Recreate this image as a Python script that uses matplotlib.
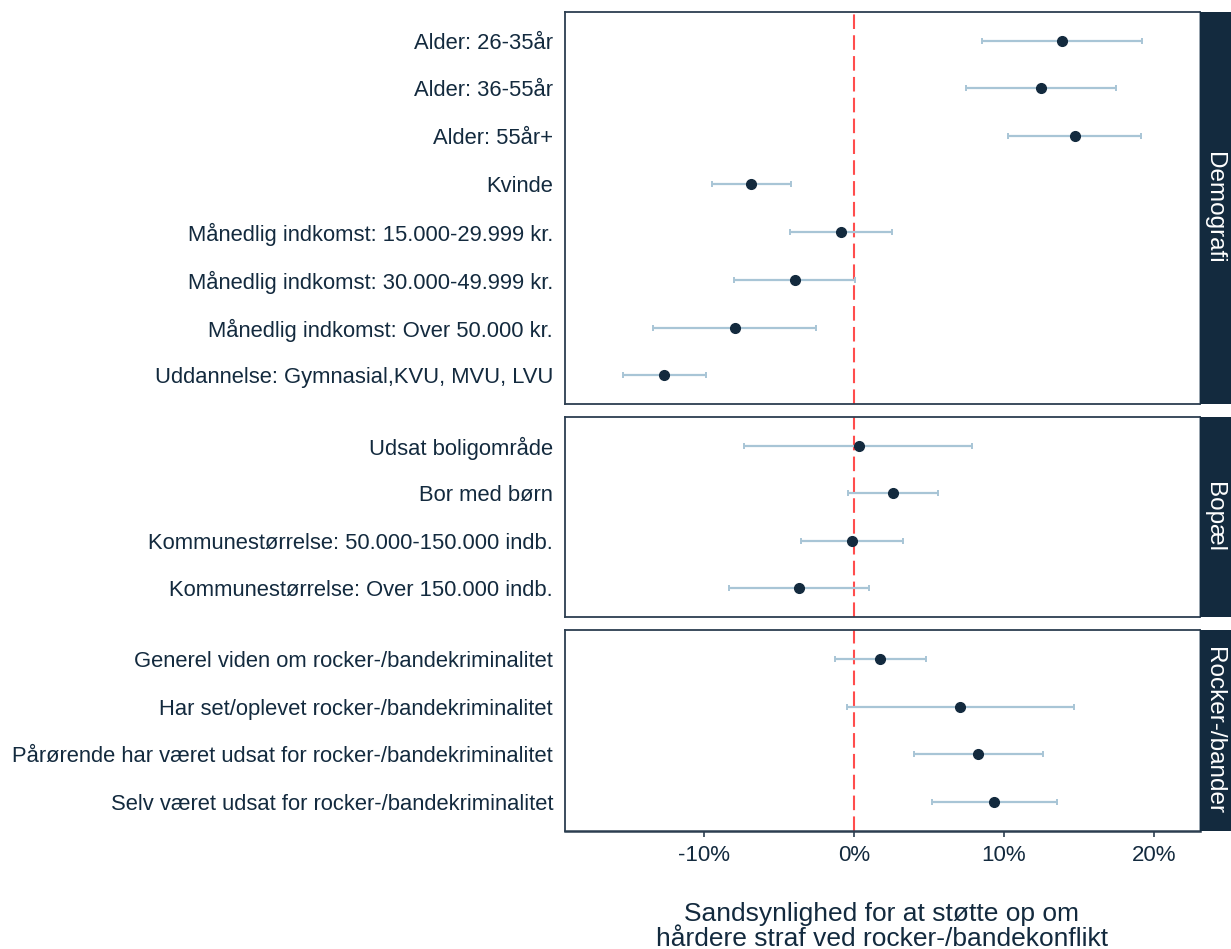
import numpy as np
import matplotlib.pyplot as plt
from matplotlib.ticker import FuncFormatter

plt.rcParams['font.family'] = ['Liberation Sans', 'DejaVu Sans']

NAVY = '#132a3e'
BAR_BLUE = '#a8c5d6'
RED = '#ff4d4d'

# Demografi
demo_labels = ['Alder: 26-35år', 'Alder: 36-55år', 'Alder: 55år+', 'Kvinde',
               'Månedlig indkomst: 15.000-29.999 kr.',
               'Månedlig indkomst: 30.000-49.999 kr.',
               'Månedlig indkomst: Over 50.000 kr.',
               'Uddannelse: Gymnasial,KVU, MVU, LVU']
demo_est = [13.9, 12.5, 14.75, -6.85, -0.85, -3.95, -7.95, -12.65]
demo_lo = [8.55, 7.5, 10.3, -9.5, -4.25, -8.0, -13.4, -15.4]
demo_hi = [19.2, 17.5, 19.15, -4.2, 2.55, 0.05, -2.55, -9.9]

# Bopæl
bop_labels = ['Udsat boligområde', 'Bor med børn',
              'Kommunestørrelse: 50.000-150.000 indb.',
              'Kommunestørrelse: Over 150.000 indb.']
bop_est = [0.3, 2.6, -0.15, -3.7]
bop_lo = [-7.35, -0.4, -3.55, -8.35]
bop_hi = [7.9, 5.6, 3.25, 1.0]

# Rocker-/bander
rock_labels = ['Generel viden om rocker-/bandekriminalitet',
               'Har set/oplevet rocker-/bandekriminalitet',
               'Pårørende har været udsat for rocker-/bandekriminalitet',
               'Selv været udsat for rocker-/bandekriminalitet']
rock_est = [1.75, 7.1, 8.3, 9.35]
rock_lo = [-1.3, -0.5, 4.0, 5.2]
rock_hi = [4.8, 14.7, 12.6, 13.55]

panels = [
    ('Demografi', demo_labels, demo_est, demo_lo, demo_hi),
    ('Bopæl', bop_labels, bop_est, bop_lo, bop_hi),
    ('Rocker-/bander', rock_labels, rock_est, rock_lo, rock_hi),
]

W, H = 1231, 949
fig = plt.figure(figsize=(W / 100, H / 100), dpi=100)

# panel extents in pixels (top, bottom)
extents = [(12, 404), (417, 617), (630, 831)]
left_px, right_px, strip_px = 565, 1200, 1231

for i, ((name, labels, est, lo, hi), (top, bot)) in enumerate(zip(panels, extents)):
    ax = fig.add_axes([left_px / W, 1 - bot / H, (right_px - left_px) / W, (bot - top) / H])
    n = len(labels)
    y = np.arange(1, n + 1)
    est = np.array(est)
    lo = np.array(lo)
    hi = np.array(hi)
    ax.axvline(0, color=RED, lw=1.5, ls=(0, (7, 3)), zorder=1)
    ax.errorbar(est, y, xerr=[est - lo, hi - est], fmt='none', ecolor=BAR_BLUE,
                elinewidth=1.6, capsize=2.5, capthick=1.4, zorder=2)
    ax.plot(est, y, 'o', color=NAVY, ms=7, zorder=3)
    ax.set_xlim(-19.27, 23.07)
    ax.set_ylim(n + 0.6, 0.4)
    ax.set_yticks(y)
    ax.set_yticklabels(labels, fontsize=15.8, color=NAVY)
    ax.tick_params(axis='y', length=0, pad=8.6)
    for s in ax.spines.values():
        s.set_color('#2c3e50')
        s.set_linewidth(1.3)
    ax.spines['right'].set_color('#8c9aa6')
    ax.set_xticks([-10, 0, 10, 20])
    if i < 2:
        ax.tick_params(axis='x', length=0, labelbottom=False)
    else:
        ax.spines['bottom'].set_linewidth(1.8)
        ax.xaxis.set_major_formatter(FuncFormatter(lambda v, p: f'{v:.0f}%'))
        ax.tick_params(axis='x', length=4, width=1.2, color='#2c3e50',
                       labelsize=16, labelcolor=NAVY, pad=6)

    # facet strip on the right
    sax = fig.add_axes([right_px / W, 1 - bot / H, (strip_px - right_px) / W, (bot - top) / H])
    sax.set_facecolor(NAVY)
    sax.set_xticks([])
    sax.set_yticks([])
    for s in sax.spines.values():
        s.set_visible(False)
    sax.text(0.45, 0.5, name, rotation=-90, ha='center', va='center',
             color='white', fontsize=17.5, transform=sax.transAxes)

# x axis title, two centred lines below the bottom panel
x_title = ['Sandsynlighed for at støtte op om',
           'hårdere straf ved rocker-/bandekonflikt']
fig.text(882 / W, 1 - 921 / H, x_title[0], ha='center', va='baseline',
         fontsize=19, color=NAVY)
fig.text(882 / W, 1 - 946 / H, x_title[1], ha='center', va='baseline',
         fontsize=19, color=NAVY)

fig.savefig('out.png', dpi=100)
